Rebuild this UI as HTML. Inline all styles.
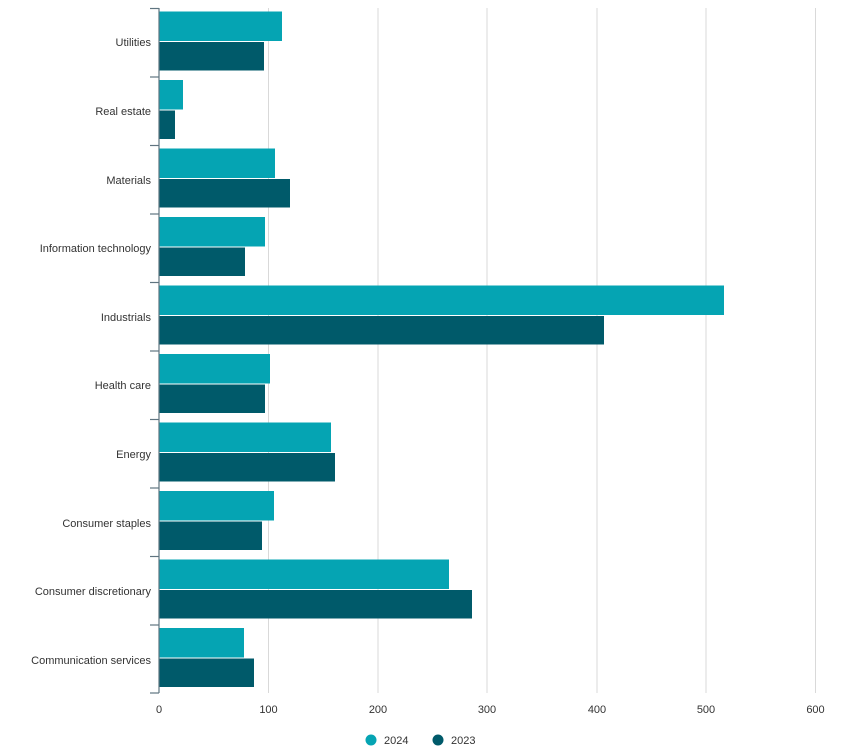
<!DOCTYPE html>
<html><head><meta charset="utf-8"><style>
body{margin:0;background:#fff;}
svg{display:block;font-family:"Liberation Sans",sans-serif;}
</style></head><body>
<svg width="860" height="756" viewBox="0 0 860 756">
<g stroke="#d9d9d9" stroke-width="1">
<line x1="268.5" y1="8" x2="268.5" y2="693"/>
<line x1="378" y1="8" x2="378" y2="693"/>
<line x1="487" y1="8" x2="487" y2="693"/>
<line x1="597" y1="8" x2="597" y2="693"/>
<line x1="706" y1="8" x2="706" y2="693"/>
<line x1="815.5" y1="8" x2="815.5" y2="693"/>
</g>
<g id="bars">
<rect x="159" y="11.5" width="123" height="29.5" fill="#05A4B3"/><rect x="159" y="42" width="105" height="28.5" fill="#005A6A"/>
<rect x="159" y="80" width="24" height="29.5" fill="#05A4B3"/><rect x="159" y="110.5" width="16" height="28.5" fill="#005A6A"/>
<rect x="159" y="148.5" width="116" height="29.5" fill="#05A4B3"/><rect x="159" y="179" width="131" height="28.5" fill="#005A6A"/>
<rect x="159" y="217" width="106" height="29.5" fill="#05A4B3"/><rect x="159" y="247.5" width="86" height="28.5" fill="#005A6A"/>
<rect x="159" y="285.5" width="565" height="29.5" fill="#05A4B3"/><rect x="159" y="316" width="445" height="28.5" fill="#005A6A"/>
<rect x="159" y="354" width="111" height="29.5" fill="#05A4B3"/><rect x="159" y="384.5" width="106" height="28.5" fill="#005A6A"/>
<rect x="159" y="422.5" width="172" height="29.5" fill="#05A4B3"/><rect x="159" y="453" width="176" height="28.5" fill="#005A6A"/>
<rect x="159" y="491" width="115" height="29.5" fill="#05A4B3"/><rect x="159" y="521.5" width="103" height="28.5" fill="#005A6A"/>
<rect x="159" y="559.5" width="290" height="29.5" fill="#05A4B3"/><rect x="159" y="590" width="313" height="28.5" fill="#005A6A"/>
<rect x="159" y="628" width="85" height="29.5" fill="#05A4B3"/><rect x="159" y="658.5" width="95" height="28.5" fill="#005A6A"/>
</g>
<g stroke="#5f7480" stroke-width="1.2">
<line x1="159" y1="8" x2="159" y2="693"/>
<line x1="150" y1="8.5" x2="159" y2="8.5"/>
<line x1="150" y1="77" x2="159" y2="77"/>
<line x1="150" y1="145.5" x2="159" y2="145.5"/>
<line x1="150" y1="214" x2="159" y2="214"/>
<line x1="150" y1="282.5" x2="159" y2="282.5"/>
<line x1="150" y1="351" x2="159" y2="351"/>
<line x1="150" y1="419.5" x2="159" y2="419.5"/>
<line x1="150" y1="488" x2="159" y2="488"/>
<line x1="150" y1="556.5" x2="159" y2="556.5"/>
<line x1="150" y1="625" x2="159" y2="625"/>
<line x1="150" y1="693" x2="159" y2="693"/>
</g>
<g font-size="11" fill="#333" text-anchor="end">
<text x="151" y="46">Utilities</text>
<text x="151" y="115">Real estate</text>
<text x="151" y="184">Materials</text>
<text x="151" y="252">Information technology</text>
<text x="151" y="321">Industrials</text>
<text x="151" y="389">Health care</text>
<text x="151" y="458">Energy</text>
<text x="151" y="527">Consumer staples</text>
<text x="151" y="595">Consumer discretionary</text>
<text x="151" y="664">Communication services</text>
</g>
<g font-size="11" fill="#333" text-anchor="middle">
<text x="159" y="713">0</text>
<text x="268.5" y="713">100</text>
<text x="378" y="713">200</text>
<text x="487" y="713">300</text>
<text x="597" y="713">400</text>
<text x="706" y="713">500</text>
<text x="815.5" y="713">600</text>
</g>
<circle cx="371" cy="740" r="5.5" fill="#05A4B3"/>
<text x="384" y="744" font-size="11" fill="#333">2024</text>
<circle cx="438" cy="740" r="5.5" fill="#005A6A"/>
<text x="451" y="744" font-size="11" fill="#333">2023</text>
</svg>
</body></html>
